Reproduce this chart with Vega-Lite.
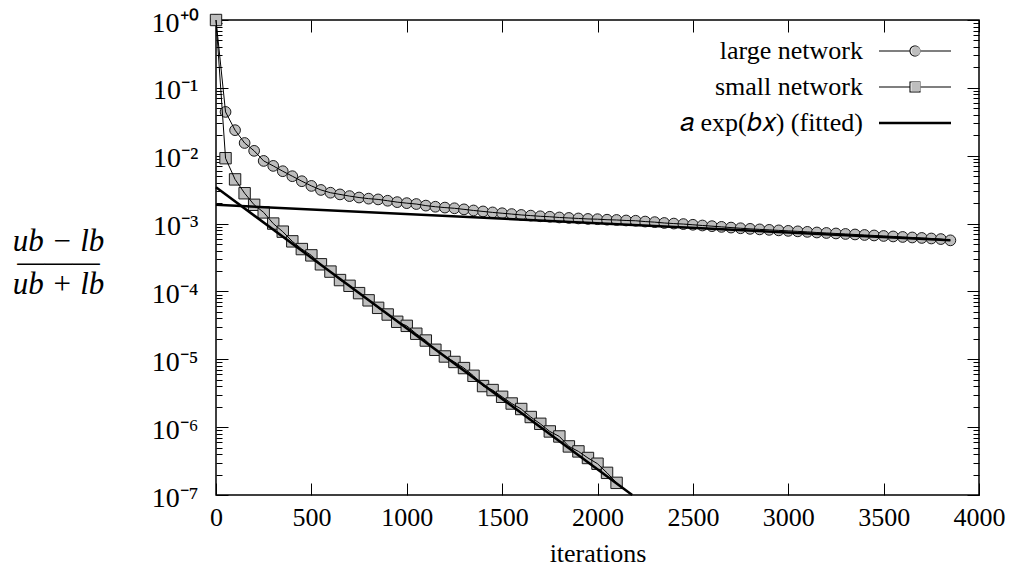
{
  "$schema": "https://vega.github.io/schema/vega-lite/v6.json",
  "width": 763,
  "height": 475,
  "autosize": "none",
  "padding": {"left": 216, "top": 20, "right": 35, "bottom": 82},
  "background": "white",
  "config": {
    "font": "Liberation Serif, Times New Roman, serif",
    "view": {"stroke": "black", "strokeWidth": 1.5},
    "axis": {
      "grid": false,
      "domain": false,
      "tickColor": "black",
      "tickWidth": 1,
      "labelColor": "black",
      "titleColor": "black",
      "labelFont": "Liberation Serif, Times New Roman, serif",
      "titleFont": "Liberation Serif, Times New Roman, serif",
      "labelFontSize": 25,
      "titleFontSize": 26,
      "titleFontWeight": "normal"
    },
    "legend": {"labelFont": "Liberation Serif, Times New Roman, serif", "labelColor": "black"}
  },
  "datasets": {
    "series": [
      {"series": "large", "iteration": 0, "gap": 1},
      {"series": "large", "iteration": 50, "gap": 0.0442},
      {"series": "large", "iteration": 100, "gap": 0.0238},
      {"series": "large", "iteration": 150, "gap": 0.0154},
      {"series": "large", "iteration": 200, "gap": 0.0118},
      {"series": "large", "iteration": 250, "gap": 0.00838},
      {"series": "large", "iteration": 300, "gap": 0.00708},
      {"series": "large", "iteration": 350, "gap": 0.00591},
      {"series": "large", "iteration": 400, "gap": 0.00499},
      {"series": "large", "iteration": 450, "gap": 0.00421},
      {"series": "large", "iteration": 500, "gap": 0.00359},
      {"series": "large", "iteration": 550, "gap": 0.00313},
      {"series": "large", "iteration": 600, "gap": 0.00285},
      {"series": "large", "iteration": 650, "gap": 0.00269},
      {"series": "large", "iteration": 700, "gap": 0.00254},
      {"series": "large", "iteration": 750, "gap": 0.00242},
      {"series": "large", "iteration": 800, "gap": 0.00233},
      {"series": "large", "iteration": 850, "gap": 0.00227},
      {"series": "large", "iteration": 900, "gap": 0.00217},
      {"series": "large", "iteration": 950, "gap": 0.00207},
      {"series": "large", "iteration": 1000, "gap": 0.002},
      {"series": "large", "iteration": 1050, "gap": 0.00194},
      {"series": "large", "iteration": 1100, "gap": 0.00184},
      {"series": "large", "iteration": 1150, "gap": 0.00177},
      {"series": "large", "iteration": 1200, "gap": 0.00172},
      {"series": "large", "iteration": 1250, "gap": 0.00168},
      {"series": "large", "iteration": 1300, "gap": 0.00162},
      {"series": "large", "iteration": 1350, "gap": 0.00156},
      {"series": "large", "iteration": 1400, "gap": 0.00151},
      {"series": "large", "iteration": 1450, "gap": 0.00146},
      {"series": "large", "iteration": 1500, "gap": 0.00142},
      {"series": "large", "iteration": 1550, "gap": 0.00138},
      {"series": "large", "iteration": 1600, "gap": 0.00134},
      {"series": "large", "iteration": 1650, "gap": 0.00131},
      {"series": "large", "iteration": 1700, "gap": 0.00128},
      {"series": "large", "iteration": 1750, "gap": 0.00126},
      {"series": "large", "iteration": 1800, "gap": 0.00123},
      {"series": "large", "iteration": 1850, "gap": 0.00121},
      {"series": "large", "iteration": 1900, "gap": 0.00119},
      {"series": "large", "iteration": 1950, "gap": 0.00117},
      {"series": "large", "iteration": 2000, "gap": 0.00116},
      {"series": "large", "iteration": 2050, "gap": 0.00114},
      {"series": "large", "iteration": 2100, "gap": 0.00113},
      {"series": "large", "iteration": 2150, "gap": 0.00111},
      {"series": "large", "iteration": 2200, "gap": 0.0011},
      {"series": "large", "iteration": 2250, "gap": 0.00107},
      {"series": "large", "iteration": 2300, "gap": 0.00105},
      {"series": "large", "iteration": 2350, "gap": 0.00102},
      {"series": "large", "iteration": 2400, "gap": 0.001},
      {"series": "large", "iteration": 2450, "gap": 0.000983},
      {"series": "large", "iteration": 2500, "gap": 0.00096},
      {"series": "large", "iteration": 2550, "gap": 0.000937},
      {"series": "large", "iteration": 2600, "gap": 0.000916},
      {"series": "large", "iteration": 2650, "gap": 0.000894},
      {"series": "large", "iteration": 2700, "gap": 0.000873},
      {"series": "large", "iteration": 2750, "gap": 0.000853},
      {"series": "large", "iteration": 2800, "gap": 0.000836},
      {"series": "large", "iteration": 2850, "gap": 0.000821},
      {"series": "large", "iteration": 2900, "gap": 0.000808},
      {"series": "large", "iteration": 2950, "gap": 0.000794},
      {"series": "large", "iteration": 3000, "gap": 0.000781},
      {"series": "large", "iteration": 3050, "gap": 0.000768},
      {"series": "large", "iteration": 3100, "gap": 0.000755},
      {"series": "large", "iteration": 3150, "gap": 0.000739},
      {"series": "large", "iteration": 3200, "gap": 0.000727},
      {"series": "large", "iteration": 3250, "gap": 0.000715},
      {"series": "large", "iteration": 3300, "gap": 0.000703},
      {"series": "large", "iteration": 3350, "gap": 0.000691},
      {"series": "large", "iteration": 3400, "gap": 0.000679},
      {"series": "large", "iteration": 3450, "gap": 0.000668},
      {"series": "large", "iteration": 3500, "gap": 0.000657},
      {"series": "large", "iteration": 3550, "gap": 0.000646},
      {"series": "large", "iteration": 3600, "gap": 0.000635},
      {"series": "large", "iteration": 3650, "gap": 0.000624},
      {"series": "large", "iteration": 3700, "gap": 0.000614},
      {"series": "large", "iteration": 3750, "gap": 0.000603},
      {"series": "large", "iteration": 3800, "gap": 0.000591},
      {"series": "large", "iteration": 3850, "gap": 0.000566},
      {"series": "small", "iteration": 0, "gap": 1},
      {"series": "small", "iteration": 50, "gap": 0.00919},
      {"series": "small", "iteration": 100, "gap": 0.00448},
      {"series": "small", "iteration": 150, "gap": 0.0028},
      {"series": "small", "iteration": 200, "gap": 0.00189},
      {"series": "small", "iteration": 250, "gap": 0.00146},
      {"series": "small", "iteration": 300, "gap": 0.001},
      {"series": "small", "iteration": 350, "gap": 0.00076},
      {"series": "small", "iteration": 400, "gap": 0.000547},
      {"series": "small", "iteration": 450, "gap": 0.000421},
      {"series": "small", "iteration": 500, "gap": 0.00034},
      {"series": "small", "iteration": 550, "gap": 0.000251},
      {"series": "small", "iteration": 600, "gap": 0.000196},
      {"series": "small", "iteration": 650, "gap": 0.000147},
      {"series": "small", "iteration": 700, "gap": 0.000121},
      {"series": "small", "iteration": 750, "gap": 0.0000944},
      {"series": "small", "iteration": 800, "gap": 0.0000739},
      {"series": "small", "iteration": 850, "gap": 0.0000573},
      {"series": "small", "iteration": 900, "gap": 0.0000457},
      {"series": "small", "iteration": 950, "gap": 0.0000357},
      {"series": "small", "iteration": 1000, "gap": 0.0000311},
      {"series": "small", "iteration": 1050, "gap": 0.0000238},
      {"series": "small", "iteration": 1100, "gap": 0.0000189},
      {"series": "small", "iteration": 1150, "gap": 0.0000138},
      {"series": "small", "iteration": 1200, "gap": 0.000011},
      {"series": "small", "iteration": 1250, "gap": 0.00000913},
      {"series": "small", "iteration": 1300, "gap": 0.00000742},
      {"series": "small", "iteration": 1350, "gap": 0.00000571},
      {"series": "small", "iteration": 1400, "gap": 0.00000403},
      {"series": "small", "iteration": 1450, "gap": 0.00000352},
      {"series": "small", "iteration": 1500, "gap": 0.0000028},
      {"series": "small", "iteration": 1550, "gap": 0.00000223},
      {"series": "small", "iteration": 1600, "gap": 0.00000185},
      {"series": "small", "iteration": 1650, "gap": 0.00000141},
      {"series": "small", "iteration": 1700, "gap": 0.00000112},
      {"series": "small", "iteration": 1750, "gap": 8.64e-7},
      {"series": "small", "iteration": 1800, "gap": 7.29e-7},
      {"series": "small", "iteration": 1850, "gap": 5.2e-7},
      {"series": "small", "iteration": 1900, "gap": 4.39e-7},
      {"series": "small", "iteration": 1950, "gap": 3.51e-7},
      {"series": "small", "iteration": 2000, "gap": 2.89e-7},
      {"series": "small", "iteration": 2050, "gap": 2.12e-7},
      {"series": "small", "iteration": 2100, "gap": 1.51e-7}
    ],
    "fit": [
      {"fit": "large", "iteration": 0, "gap": 0.00189},
      {"fit": "large", "iteration": 3850, "gap": 0.000566},
      {"fit": "small", "iteration": 0, "gap": 0.00343},
      {"fit": "small", "iteration": 2182, "gap": 1e-7}
    ]
  },
  "resolve": {"axis": {"x": "independent", "y": "independent"}, "scale": {"shape": "independent"}},
  "layer": [
    {
      "data": {"name": "series"},
      "transform": [{"filter": "datum.series == 'large'"}],
      "mark": {"type": "point", "shape": "circle", "filled": true, "fill": "#bebebe", "fillOpacity": 1, "stroke": "#1a1a1a", "strokeWidth": 1, "size": 115, "opacity": 1},
      "encoding": {
        "x": {"field": "iteration", "type": "quantitative", "scale": {"domain": [0, 4000], "nice": false, "zero": false},
          "axis": {"orient": "bottom", "title": "iterations", "values": [0, 500, 1000, 1500, 2000, 2500, 3000, 3500, 4000], "format": "d", "ticks": false, "labels": true, "labelFlush": false, "labelOverlap": false, "labelPadding": 9, "labelFontSize": 26, "titleFontSize": 26, "labelFont": "Liberation Serif, Times New Roman, serif", "titleFont": "Liberation Serif, Times New Roman, serif", "titleBaseline": "alphabetic", "titleY": 66, "offset": 0}},
        "y": {"field": "gap", "type": "quantitative", "scale": {"type": "log", "domain": [1e-7, 1], "nice": false},
          "axis": {"orient": "left", "values": [1e-7, 1e-6, 1e-5, 1e-4, 1e-3, 1e-2, 1e-1, 1], "ticks": false, "labelFlush": false, "labelOverlap": false, "labelPadding": 18, "labelFontSize": 28, "labelAlign": "right", "labelBaseline": "middle", "labelOffset": 3,
            "labelFont": "Liberation Serif, Times New Roman, serif", "titleFont": "Liberation Serif, Times New Roman, serif",
            "labelExpr": "'10' + (datum.value >= 0.5 ? '⁺⁰' : '⁻' + ['⁰','¹','²','³','⁴','⁵','⁶','⁷'][round(-log(datum.value)/LN10)])",
            "title": ["ub − lb", "———", "ub + lb"], "titleAngle": 0, "titleFontStyle": "italic", "titleFontSize": 31, "titleLineHeight": 21.5, "titleAlign": "center", "titleBaseline": "alphabetic", "titleX": -158, "titleY": 230, "offset": 0}}
      }
    },
    {
      "data": {"name": "series"},
      "transform": [{"filter": "datum.series == 'small'"}],
      "mark": {"type": "point", "shape": "square", "filled": true, "fill": "#bebebe", "fillOpacity": 1, "stroke": "#1a1a1a", "strokeWidth": 1, "size": 130, "opacity": 1},
      "encoding": {
        "x": {"field": "iteration", "type": "quantitative", "scale": {"domain": [0, 4000], "nice": false, "zero": false},
          "axis": {"orient": "bottom", "title": null, "values": [0, 500, 1000, 1500, 2000, 2500, 3000, 3500, 4000], "labels": false, "ticks": true, "tickSize": 12, "offset": -12}},
        "y": {"field": "gap", "type": "quantitative", "scale": {"type": "log", "domain": [1e-7, 1], "nice": false},
          "axis": {"orient": "left", "title": null, "values": [1e-7, 1e-6, 1e-5, 1e-4, 1e-3, 1e-2, 1e-1, 1], "labels": false, "ticks": true, "tickSize": 12, "offset": -12}}
      }
    },
    {
      "data": {"name": "series"},
      "mark": {"type": "line", "stroke": "black", "strokeWidth": 1},
      "encoding": {
        "x": {"field": "iteration", "type": "quantitative", "scale": {"domain": [0, 4000], "nice": false, "zero": false},
          "axis": {"orient": "top", "title": null, "values": [0, 500, 1000, 1500, 2000, 2500, 3000, 3500, 4000], "labels": false, "ticks": true, "tickSize": 12, "offset": -12}},
        "y": {"field": "gap", "type": "quantitative", "scale": {"type": "log", "domain": [1e-7, 1], "nice": false},
          "axis": {"orient": "left", "title": null, "values": [2e-7, 3e-7, 4e-7, 5e-7, 6e-7, 7e-7, 8e-7, 9e-7, 2e-6, 3e-6, 4e-6, 5e-6, 6e-6, 7e-6, 8e-6, 9e-6, 2e-5, 3e-5, 4e-5, 5e-5, 6e-5, 7e-5, 8e-5, 9e-5, 2e-4, 3e-4, 4e-4, 5e-4, 6e-4, 7e-4, 8e-4, 9e-4, 2e-3, 3e-3, 4e-3, 5e-3, 6e-3, 7e-3, 8e-3, 9e-3, 2e-2, 3e-2, 4e-2, 5e-2, 6e-2, 7e-2, 8e-2, 9e-2, 0.2, 0.3, 0.4, 0.5, 0.6, 0.7, 0.8, 0.9], "labels": false, "ticks": true, "tickSize": 6, "offset": -6}},
        "detail": {"field": "series", "type": "nominal"}
      }
    },
    {
      "data": {"name": "fit"},
      "mark": {"type": "line", "stroke": "black", "strokeWidth": 2.5},
      "encoding": {
        "x": {"field": "iteration", "type": "quantitative", "scale": {"domain": [0, 4000], "nice": false, "zero": false}, "axis": null},
        "y": {"field": "gap", "type": "quantitative", "scale": {"type": "log", "domain": [1e-7, 1], "nice": false},
          "axis": {"orient": "right", "title": null, "values": [1e-7, 1e-6, 1e-5, 1e-4, 1e-3, 1e-2, 1e-1, 1], "labels": false, "ticks": true, "tickSize": 12, "offset": -12}},
        "detail": {"field": "fit", "type": "nominal"}
      }
    },
    {
      "data": {"name": "fit"},
      "transform": [{"filter": "datum.iteration < 0"}],
      "mark": {"type": "point", "filled": true, "fill": "black", "fillOpacity": 1, "strokeWidth": 0, "size": 144, "opacity": 1},
      "encoding": {
        "x": {"field": "iteration", "type": "quantitative", "scale": {"domain": [0, 4000], "nice": false, "zero": false}, "axis": null},
        "y": {"field": "gap", "type": "quantitative", "scale": {"type": "log", "domain": [1e-7, 1], "nice": false},
          "axis": {"orient": "right", "title": null, "values": [2e-7, 3e-7, 4e-7, 5e-7, 6e-7, 7e-7, 8e-7, 9e-7, 2e-6, 3e-6, 4e-6, 5e-6, 6e-6, 7e-6, 8e-6, 9e-6, 2e-5, 3e-5, 4e-5, 5e-5, 6e-5, 7e-5, 8e-5, 9e-5, 2e-4, 3e-4, 4e-4, 5e-4, 6e-4, 7e-4, 8e-4, 9e-4, 2e-3, 3e-3, 4e-3, 5e-3, 6e-3, 7e-3, 8e-3, 9e-3, 2e-2, 3e-2, 4e-2, 5e-2, 6e-2, 7e-2, 8e-2, 9e-2, 0.2, 0.3, 0.4, 0.5, 0.6, 0.7, 0.8, 0.9], "labels": false, "ticks": true, "tickSize": 6, "offset": -6}},
        "shape": {"field": "fit", "type": "nominal",
          "scale": {"domain": ["large network", "small network", "𝑎 exp(𝑏𝑥) (fitted)"],
            "range": [
              "M-6,-0.1H-0.92V0.1H-6Z M0.92,-0.1H6V0.1H0.92Z M0.92,0A0.92,0.92,0,1,1,-0.92,0A0.92,0.92,0,1,1,0.92,0Z M0.75,0A0.75,0.75,0,1,0,-0.75,0A0.75,0.75,0,1,0,0.75,0Z",
              "M-6,-0.1H-0.92V0.1H-6Z M0.92,-0.1H6V0.1H0.92Z M-0.92,-0.92H0.92V0.92H-0.92Z M-0.75,-0.75V0.75H0.75V-0.75Z",
              "M-6,-0.22H6V0.22H-6Z"]},
          "legend": {"title": null, "orient": "none", "legendX": 686, "legendY": 18, "padding": 0, "labelFont": "Liberation Serif, Times New Roman, serif", "labelFontSize": 26, "labelAlign": "right", "labelOffset": -65, "labelLimit": 0, "symbolSize": 144, "rowPadding": 10, "symbolStrokeWidth": 0, "symbolFillColor": "black"}}
      }
    },
    {
      "data": {"name": "fit"},
      "transform": [{"filter": "datum.iteration < 0"}],
      "mark": {"type": "point", "filled": true, "fill": "#bebebe", "fillOpacity": 1, "strokeWidth": 0, "size": 144, "opacity": 1},
      "encoding": {
        "x": {"field": "iteration", "type": "quantitative", "scale": {"domain": [0, 4000], "nice": false, "zero": false}, "axis": null},
        "y": {"field": "gap", "type": "quantitative", "scale": {"type": "log", "domain": [1e-7, 1], "nice": false}, "axis": null},
        "shape": {"field": "fit", "type": "nominal",
          "scale": {"domain": ["large network", "small network", "𝑎 exp(𝑏𝑥) (fitted)"],
            "range": [
              "M0.76,0A0.76,0.76,0,1,1,-0.76,0A0.76,0.76,0,1,1,0.76,0Z",
              "M-0.76,-0.76H0.76V0.76H-0.76Z",
              "M0,0H0.01V0.01H0Z"]},
          "legend": {"title": null, "orient": "none", "legendX": 694, "legendY": 25, "padding": 0, "labelExpr": "''", "labelFontSize": 1, "labelLimit": 0, "symbolSize": 144, "rowPadding": 24.5, "symbolStrokeWidth": 0, "symbolFillColor": "#bebebe"}}
      }
    }
  ]
}
